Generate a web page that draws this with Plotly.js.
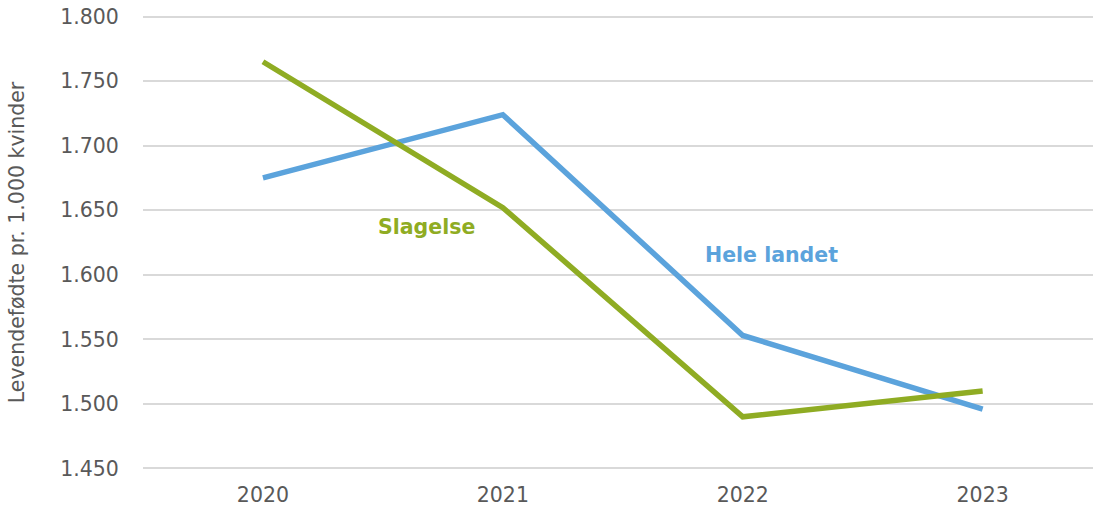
<!DOCTYPE html>
<html>
<head>
<meta charset="utf-8">
<script src="https://cdn.plot.ly/plotly-3.0.1.min.js"></script>
<style>
  html, body { margin: 0; padding: 0; background: #fff; }
  #chart { width: 1093px; height: 506px; }
</style>
</head>
<body>
<div id="chart"></div>
<script>
let years = ['2020', '2021', '2022', '2023'];
let slagelse = [1765, 1652, 1490, 1510];
let hele_landet = [1675, 1724, 1553, 1496];

let data = [
  {
    x: years,
    y: hele_landet,
    name: 'Hele landet',
    type: 'scatter',
    mode: 'lines',
    line: { color: '#5ba3dc', width: 5.5 }
  },
  {
    x: years,
    y: slagelse,
    name: 'Slagelse',
    type: 'scatter',
    mode: 'lines',
    line: { color: '#8fac23', width: 5.5 }
  }
];

let forme = {
  width: 1093,
  height: 506,
  showlegend: false,
  separators: ',.',
  font: { family: 'DejaVu Sans, Verdana, sans-serif', color: '#595959', size: 20.5 },
  margin: { l: 143, r: 0, t: 14, b: 35 },
  plot_bgcolor: '#fff',
  paper_bgcolor: '#fff',
  xaxis: {
    type: 'category',
    range: [-0.5, 3.46],
    showgrid: false,
    zeroline: false,
    showline: false,
    ticks: 'outside',
    ticklen: 5,
    tickcolor: 'rgba(0,0,0,0)',
    tickfont: { size: 20.5, color: '#595959' }
  },
  yaxis: {
    range: [1448, 1802],
    tickvals: [1450, 1500, 1550, 1600, 1650, 1700, 1750, 1800],
    tickformat: ',d',
    showgrid: true,
    gridcolor: '#d9d9d9',
    gridwidth: 2,
    zeroline: false,
    showline: false,
    ticks: 'outside',
    ticklen: 19,
    tickcolor: 'rgba(0,0,0,0)',
    tickfont: { size: 20.5, color: '#595959' },
    title: { text: 'Levendefødte pr. 1.000 kvinder', font: { size: 20.5, color: '#595959' }, standoff: 30 }
  },
  annotations: [
    {
      x: 0.68, y: 1637, xref: 'x', yref: 'y',
      text: '<b>Slagelse</b>', showarrow: false,
      font: { size: 20.5, color: '#8fac23' }
    },
    {
      x: 2.12, y: 1615, xref: 'x', yref: 'y',
      text: '<b>Hele landet</b>', showarrow: false,
      font: { size: 20.5, color: '#5ba3dc' }
    }
  ]
};

Plotly.newPlot('chart', data, forme, { displayModeBar: false });
</script>
</body>
</html>
